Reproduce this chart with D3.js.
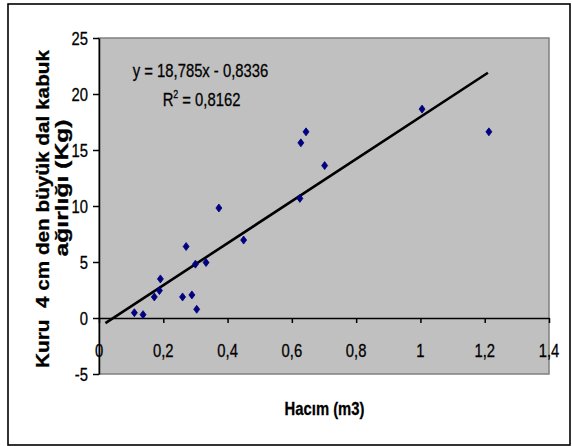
<!DOCTYPE html>
<html><head><meta charset="utf-8">
<script src="https://cdn.jsdelivr.net/npm/d3@7"></script>
<style>
html,body{margin:0;padding:0;background:#fff;}
svg{display:block;}
text{font-family:"Liberation Sans",Arial,sans-serif;fill:#000;stroke:#000;stroke-width:0.3px;}
</style></head>
<body><svg id="c" width="572" height="446"></svg>
<script>
const hacim   = [0.110, 0.137, 0.172, 0.188, 0.191, 0.260, 0.271, 0.289, 0.300, 0.304, 0.333, 0.373, 0.450, 0.625, 0.628, 0.644, 0.702, 1.005, 1.213];
const agirlik = [0.47, 0.30, 1.88, 2.45, 3.49, 1.88, 6.38, 2.06, 4.81, 0.78, 4.95, 9.82, 6.96, 10.68, 15.64, 16.62, 13.61, 18.65, 16.62];
const trendSlope = 18.785, trendIntercept = -0.8336;
const trendRange = [0.02, 1.21];
const xTicks = [0, 0.2, 0.4, 0.6, 0.8, 1, 1.2, 1.4];
const yTicks = [-5, 0, 5, 10, 15, 20, 25];
const eqText = "y = 18,785x - 0,8336";
const r2Value = "0,8162";
const xTitle = "Hacım (m3)";
const yTitle1 = "Kuru  4 cm den büyük dal kabuk";
const yTitle2 = "ağırlığı (Kg)";

const svg = d3.select("#c");
const L = 99, R = 549, T = 38, B = 374;
const x = d3.scaleLinear().domain([0, 1.4]).range([L, R]);
const y = d3.scaleLinear().domain([-5, 25]).range([B, T]);
const fmt = v => String(v).replace(".", ",");
const SX = 0.8;

// outer border
svg.append("rect").attr("x", 8).attr("y", 4).attr("width", 562).attr("height", 441)
  .attr("fill", "#fff").attr("stroke", "#000").attr("stroke-width", 1.6);

// plot area
svg.append("rect").attr("x", L).attr("y", T).attr("width", R - L).attr("height", B - T)
  .attr("fill", "#c0c0c0").attr("stroke", "#808080").attr("stroke-width", 1.5);

// y axis
const ya = svg.append("g").attr("transform", `translate(${L},0)`)
  .call(d3.axisLeft(y).tickValues(yTicks).tickSize(6).tickSizeOuter(0).tickFormat(""));
ya.selectAll("path,line").attr("stroke", "#000").attr("stroke-width", 1.5);

// x axis at y=0
const xa = svg.append("g").attr("transform", `translate(0,${y(0)})`)
  .call(d3.axisBottom(x).tickValues(xTicks).tickSize(5).tickSizeOuter(0).tickFormat(""));
xa.selectAll("path,line").attr("stroke", "#000").attr("stroke-width", 1.5);

function htext(px, py, str, opts = {}) {
  return svg.append("text")
    .attr("transform", `translate(${px},${py}) scale(${SX},1)`)
    .attr("font-size", opts.size || 18.5)
    .attr("font-weight", opts.bold ? "bold" : "normal")
    .attr("text-anchor", opts.anchor || "middle")
    .style("white-space", "pre")
    .text(str);
}

// tick labels
yTicks.forEach(v => htext(88, y(v) + 6.7, fmt(v), {anchor: "end"}));
xTicks.forEach(v => htext(x(v), 356.5, fmt(v)));

// trendline
svg.append("line")
  .attr("x1", x(trendRange[0])).attr("y1", y(trendSlope * trendRange[0] + trendIntercept))
  .attr("x2", x(trendRange[1])).attr("y2", y(trendSlope * trendRange[1] + trendIntercept))
  .attr("stroke", "#000").attr("stroke-width", 2.6);

// markers (diamonds)
const dia = "M0,-4L3,0L0,4L-3,0Z";
svg.append("g").selectAll("path").data(hacim.map((h, i) => [h, agirlik[i]])).join("path")
  .attr("d", dia)
  .attr("transform", d => `translate(${x(d[0])},${y(d[1])})`)
  .attr("fill", "#000080").attr("stroke", "#000080").attr("stroke-width", 0.8);

// equation
htext(200.5, 76.5, eqText);
const r2 = svg.append("text")
  .attr("transform", `translate(201.5,106) scale(${SX},1)`)
  .attr("font-size", 18.5).attr("text-anchor", "middle");
r2.append("tspan").text("R");
r2.append("tspan").attr("font-size", 11).attr("dy", -8).text("2");
r2.append("tspan").attr("dy", 8).text(" = " + r2Value);

// x title
htext(324.5, 415, xTitle, {bold: true});

// y title (two lines, rotated)
svg.append("text").attr("transform", "translate(48.5,209) rotate(-90)")
  .attr("font-size", 17.5).attr("font-weight", "bold").attr("text-anchor", "middle")
  .attr("textLength", 318).attr("lengthAdjust", "spacingAndGlyphs")
  .style("white-space", "pre").text(yTitle1);
svg.append("text").attr("transform", "translate(67.5,188) rotate(-90)")
  .attr("font-size", 17.5).attr("font-weight", "bold").attr("text-anchor", "middle")
  .attr("textLength", 137).attr("lengthAdjust", "spacingAndGlyphs")
  .text(yTitle2);
</script></body></html>
